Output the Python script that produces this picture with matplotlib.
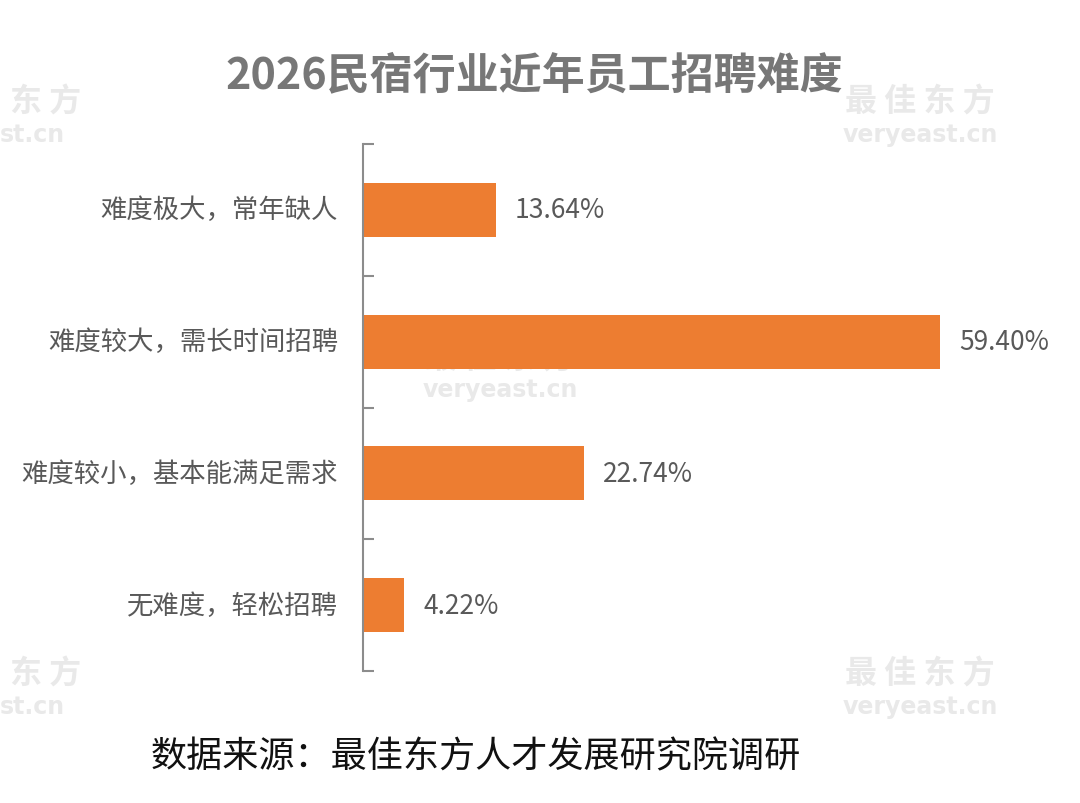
import matplotlib
matplotlib.use('Agg')
import matplotlib.pyplot as plt

plt.rcParams['font.family'] = ['Noto Sans CJK SC', 'DejaVu Sans']

categories = ['难度极大，常年缺人', '难度较大，需长时间招聘', '难度较小，基本能满足需求', '无难度，轻松招聘']
values = [13.64, 59.40, 22.74, 4.22]
value_labels = ['13.64%', '59.40%', '22.74%', '4.22%']

W, H = 1080, 804
fig = plt.figure(figsize=(W / 100, H / 100), dpi=100)

# faint watermarks behind the chart
wm = '#e9e9e9'
for x, y, t in [(920, 103, '最 佳 东 方'), (920, 675, '最 佳 东 方'), (500, 360, '最 佳 东 方'),
                (46, 103, '东 方'), (46, 675, '东 方')]:
    fig.text(x / W, 1 - y / H, t, ha='center', va='center', fontsize=23,
             fontweight='bold', color=wm, zorder=-5)
for x, y, t in [(920, 135, 'veryeast.cn'), (920, 707, 'veryeast.cn'), (500, 390, 'veryeast.cn'),
                (32, 135, 'st.cn'), (32, 707, 'st.cn')]:
    fig.text(x / W, 1 - y / H, t, ha='center', va='center', fontsize=17,
             fontweight='bold', color=wm, zorder=-5, family='DejaVu Sans')

ax = fig.add_axes([363 / W, 1 - 672 / H, 680 / W, (672 - 145) / H])
ax.patch.set_alpha(0)

pos = list(range(len(categories)))
ax.barh(pos, values, height=0.41, color='#ED7D31', zorder=2)
ax.set_xlim(0, 70)
ax.set_ylim(3.5, -0.5)

for p, v, lab in zip(pos, values, value_labels):
    ax.annotate(lab, (v, p), xytext=(14, 0), textcoords='offset points',
                ha='left', va='center', fontsize=19, color='#595959')
    ax.annotate(categories[p], (0, p), xytext=(-18, 0), textcoords='offset points',
                ha='right', va='center', fontsize=19, color='#595959')

for s in ['top', 'right', 'bottom']:
    ax.spines[s].set_visible(False)
ax.spines['left'].set_color('#8c8c8c')
ax.spines['left'].set_linewidth(1.5)
ax.set_xticks([])
ax.set_yticks([-0.5, 0.5, 1.5, 2.5, 3.5])
ax.set_yticklabels([])
ax.tick_params(axis='y', direction='in', length=8, width=1.5, color='#8c8c8c')

fig.text(534 / W, 1 - 75 / H, '2026民宿行业近年员工招聘难度', ha='center', va='center',
         fontsize=31, fontweight='bold', color='#777777')
fig.text(476 / W, 1 - 757 / H, '数据来源：最佳东方人才发展研究院调研', ha='center', va='center',
         fontsize=26, color='#111111')

fig.savefig('out.png', dpi=100)
